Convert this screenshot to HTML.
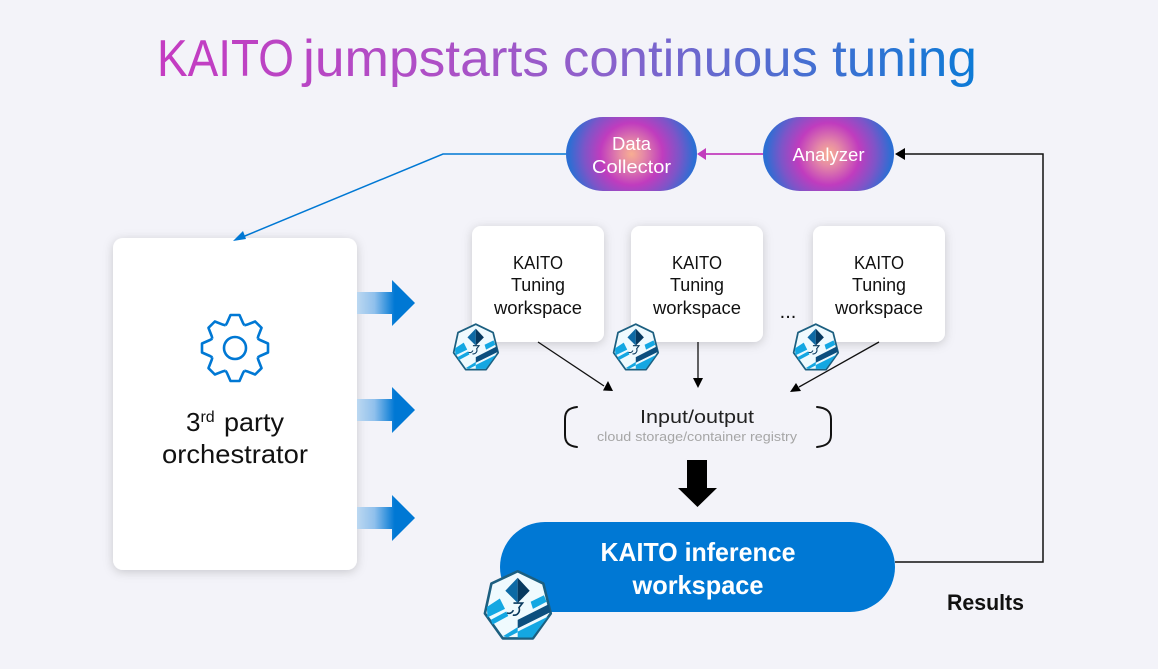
<!DOCTYPE html>
<html lang="en"><head><meta charset="utf-8"><title>KAITO jumpstarts continuous tuning</title>
<style>
html,body{margin:0;padding:0;background:#f3f3f9}
svg{display:block}
text{font-family:"Liberation Sans",sans-serif}
</style></head><body>
<svg width="1158" height="669" viewBox="0 0 1158 669" xmlns="http://www.w3.org/2000/svg">
<defs>
<linearGradient id="tg" gradientUnits="userSpaceOnUse" x1="155" y1="0" x2="977" y2="0">
<stop offset="0" stop-color="#c53bc2"/><stop offset=".35" stop-color="#ad50c6"/><stop offset=".55" stop-color="#8a62cc"/><stop offset="1" stop-color="#0c7ad6"/>
</linearGradient>
<radialGradient id="pg1" gradientUnits="userSpaceOnUse" cx="631.5" cy="154" r="66">
<stop offset="0" stop-color="#f8ae92"/><stop offset=".18" stop-color="#e58aa6"/><stop offset=".47" stop-color="#c03cbe"/><stop offset=".72" stop-color="#7d55c8"/><stop offset=".95" stop-color="#2d6ed3"/>
</radialGradient>
<radialGradient id="pg2" gradientUnits="userSpaceOnUse" cx="828.5" cy="154" r="66">
<stop offset="0" stop-color="#f8ae92"/><stop offset=".18" stop-color="#e58aa6"/><stop offset=".47" stop-color="#c03cbe"/><stop offset=".72" stop-color="#7d55c8"/><stop offset=".95" stop-color="#2d6ed3"/>
</radialGradient>
<linearGradient id="ag" x1="0" y1="0" x2="1" y2="0">
<stop offset="0" stop-color="#bcd8f1"/><stop offset=".3" stop-color="#90c0ec"/><stop offset=".65" stop-color="#0078d4"/><stop offset="1" stop-color="#0078d4"/>
</linearGradient>
<filter id="sh" x="-20%" y="-20%" width="140%" height="140%"><feDropShadow dx="0" dy="2" stdDeviation="5" flood-color="#000" flood-opacity=".18"/></filter>
<symbol id="logo" viewBox="30 20 228 228">
<polygon points="143,30 222,68 245,160 190,237 97,237 42,160 62,68" fill="#effafe" stroke="#1c5f80" stroke-width="8" stroke-linejoin="round"/>
<polygon points="48,140 88,114 104,146 50,172" fill="#14a7e2"/>
<polygon points="60,180 108,154 114,168 66,194" fill="#14a7e2"/>
<polygon points="183,124 224,104 232,124 190,146" fill="#14a7e2"/>
<polygon points="143,180 238,132 244,156 143,206" fill="#0c4f7e"/>
<polygon points="143,234 188,234 236,170 143,216" fill="#14a7e2"/>
<polygon points="98,230 143,202 143,218 112,234" fill="#14a7e2"/>
<polygon points="143,50 105,90 143,128" fill="#0d6aa5"/>
<polygon points="143,50 180,90 143,128" fill="#07395f"/>
<path d="M130,128 L158,128 L147,142 C152,155 142,168 128,165 M110,158 C118,162 126,158 130,150" fill="none" stroke="#0a3a5e" stroke-width="5"/>
</symbol>
<polygon id="ba" points="357,-11 392,-11 392,-23 415,0 392,23 392,11 357,11" fill="url(#ag)"/>
<polyline id="tooth" points="-9.4,-22.6 -8,-25 -4.5,-33 4.5,-33 8,-25 9.4,-22.6" fill="none" stroke="#0078d4" stroke-width="2.6" stroke-linejoin="round"/>
</defs>

<rect width="1158" height="669" fill="#f3f3f9"/>

<g font-size="52" fill="url(#tg)">
<text x="157" y="76" textLength="137" lengthAdjust="spacingAndGlyphs">KAITO</text>
<text x="303" y="76" textLength="246" lengthAdjust="spacingAndGlyphs">jumpstarts</text>
<text x="563" y="76" textLength="255" lengthAdjust="spacingAndGlyphs">continuous</text>
<text x="832" y="76" textLength="145" lengthAdjust="spacingAndGlyphs">tuning</text>
</g>

<!-- top connectors -->
<polyline points="566,154 443,154 240,238" fill="none" stroke="#0078d4" stroke-width="1.5"/>
<line x1="763" y1="154" x2="705" y2="154" stroke="#c23bbd" stroke-width="1.8"/>
<polygon points="697,154 706,148 706,160" fill="#c23bbd"/>
<polyline points="895,562 1043,562 1043,154 904,154" fill="none" stroke="#111" stroke-width="1.5"/>
<polygon points="895,154 905,148 905,160" fill="#000"/>

<!-- pills -->
<rect x="566" y="117" width="131" height="74" rx="37" fill="url(#pg1)"/>
<rect x="763" y="117" width="131" height="74" rx="37" fill="url(#pg2)"/>
<g fill="#fff" font-size="18" text-anchor="middle">
<text x="631.5" y="150" textLength="39" lengthAdjust="spacingAndGlyphs">Data</text>
<text x="631.5" y="173" textLength="79" lengthAdjust="spacingAndGlyphs">Collector</text>
<text x="828.5" y="161" textLength="72" lengthAdjust="spacingAndGlyphs">Analyzer</text>
</g>

<!-- orchestrator -->
<rect x="113" y="238" width="244" height="332" rx="10" fill="#fff" filter="url(#sh)"/>
<polygon points="233,241 243,231 246,239" fill="#0078d4"/>
<g transform="translate(235,348)">
<use href="#tooth"/><use href="#tooth" transform="rotate(45)"/><use href="#tooth" transform="rotate(90)"/><use href="#tooth" transform="rotate(135)"/><use href="#tooth" transform="rotate(180)"/><use href="#tooth" transform="rotate(225)"/><use href="#tooth" transform="rotate(270)"/><use href="#tooth" transform="rotate(315)"/>
<circle r="11" fill="none" stroke="#0078d4" stroke-width="2.6"/>
</g>
<text x="186" y="431" font-size="26" fill="#111">3<tspan dy="-9" font-size="16">rd</tspan></text>
<text x="224" y="431" font-size="26" fill="#111" textLength="60" lengthAdjust="spacingAndGlyphs">party</text>
<text x="235" y="463" font-size="26" fill="#111" text-anchor="middle" textLength="146" lengthAdjust="spacingAndGlyphs">orchestrator</text>

<!-- blue arrows -->
<use href="#ba" y="303"/><use href="#ba" y="410"/><use href="#ba" y="518"/>

<!-- workspace cards -->
<g fill="#fff" filter="url(#sh)">
<rect x="472" y="226" width="132" height="116" rx="9"/>
<rect x="631" y="226" width="132" height="116" rx="9"/>
<rect x="813" y="226" width="132" height="116" rx="9"/>
</g>
<g fill="#111" font-size="18" text-anchor="middle">
<text x="538" y="269" textLength="50" lengthAdjust="spacingAndGlyphs">KAITO</text><text x="538" y="291" textLength="54" lengthAdjust="spacingAndGlyphs">Tuning</text><text x="538" y="314" textLength="88" lengthAdjust="spacingAndGlyphs">workspace</text>
<text x="697" y="269" textLength="50" lengthAdjust="spacingAndGlyphs">KAITO</text><text x="697" y="291" textLength="54" lengthAdjust="spacingAndGlyphs">Tuning</text><text x="697" y="314" textLength="88" lengthAdjust="spacingAndGlyphs">workspace</text>
<text x="879" y="269" textLength="50" lengthAdjust="spacingAndGlyphs">KAITO</text><text x="879" y="291" textLength="54" lengthAdjust="spacingAndGlyphs">Tuning</text><text x="879" y="314" textLength="88" lengthAdjust="spacingAndGlyphs">workspace</text>
<text x="788" y="318" font-size="20">...</text>
</g>
<use href="#logo" x="451" y="322" width="50" height="50"/>
<use href="#logo" x="611" y="322" width="50" height="50"/>
<use href="#logo" x="791" y="322" width="50" height="50"/>

<!-- thin black arrows -->
<g stroke="#111" stroke-width="1.3">
<line x1="538" y1="342" x2="604" y2="386"/>
<line x1="698" y1="342" x2="698" y2="379"/>
<line x1="879" y1="342" x2="799" y2="387"/>
</g>
<polygon points="613,391 603,390.5 608,381" fill="#000"/>
<polygon points="698,388 693,378 703,378" fill="#000"/>
<polygon points="790,392 796,383 801,391" fill="#000"/>

<!-- brackets -->
<g fill="none" stroke="#111" stroke-width="2" stroke-linecap="round">
<path d="M577,407 C569,408 565,411 565,419 L565,435 C565,443 569,446 577,447"/>
<path d="M817,407 C826,408 831,411 831,419 L831,435 C831,443 826,446 817,447"/>
</g>
<text x="697" y="423" font-size="18" fill="#222" text-anchor="middle" textLength="114" lengthAdjust="spacingAndGlyphs">Input/output</text>
<text x="697" y="441" font-size="13" fill="#a6a6a6" text-anchor="middle" textLength="200" lengthAdjust="spacingAndGlyphs">cloud storage/container registry</text>

<!-- big down arrow -->
<polygon points="687,460 707,460 707,488 717,488 697.5,507 678,488 687,488" fill="#000"/>

<!-- inference pill -->
<rect x="500" y="522" width="395" height="90" rx="45" fill="#0078d4"/>
<text x="698" y="561" font-size="26" fill="#fff" text-anchor="middle" font-weight="700" textLength="195" lengthAdjust="spacingAndGlyphs">KAITO inference</text>
<text x="698" y="594" font-size="26" fill="#fff" text-anchor="middle" font-weight="700" textLength="131" lengthAdjust="spacingAndGlyphs">workspace</text>
<use href="#logo" x="481" y="568" width="74" height="74"/>

<text x="947" y="610" font-size="22" fill="#111" font-weight="700" textLength="77" lengthAdjust="spacingAndGlyphs">Results</text>
</svg>
</body></html>
